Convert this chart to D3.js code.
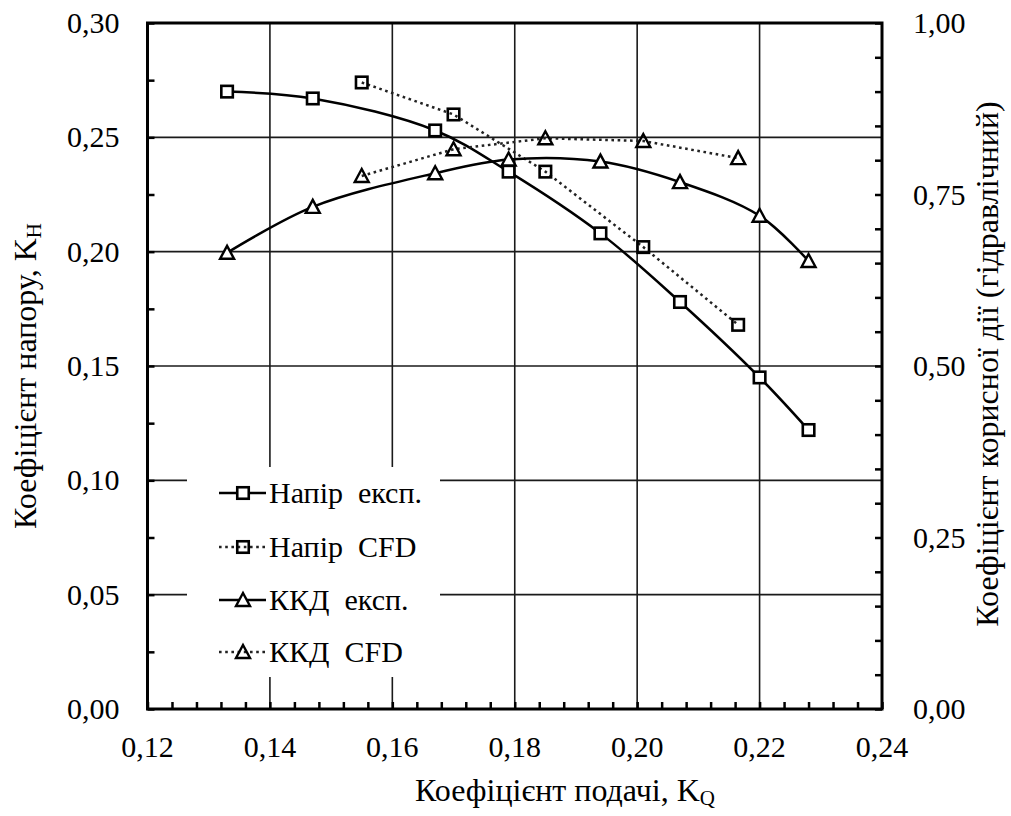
<!DOCTYPE html>
<html>
<head>
<meta charset="utf-8">
<script src="https://cdn.jsdelivr.net/npm/d3@7"></script>
<style>
  html, body { margin: 0; padding: 0; background: #fff; }
  svg { display: block; }
</style>
</head>
<body>
<svg id="chart" width="1011" height="816"></svg>
<script>
// ---- data ----
const kqExp   = [0.133, 0.147, 0.167, 0.179, 0.194, 0.207, 0.220, 0.228];
const headExp = [0.270, 0.267, 0.253, 0.235, 0.208, 0.178, 0.145, 0.122];
const effExp  = [0.665, 0.732, 0.781, 0.801, 0.798, 0.768, 0.719, 0.653];

const kqCfd   = [0.155, 0.170, 0.185, 0.201, 0.2165];
const headCfd = [0.274, 0.260, 0.235, 0.202, 0.168];
const effCfd  = [0.777, 0.816, 0.832, 0.828, 0.803];

const xTicks      = [0.12, 0.14, 0.16, 0.18, 0.20, 0.22, 0.24];
const yLeftTicks  = [0.00, 0.05, 0.10, 0.15, 0.20, 0.25, 0.30];
const yRightTicks = [0.00, 0.25, 0.50, 0.75, 1.00];
const legendLabels = ["Напір  експ.", "Напір  CFD", "ККД  експ.", "ККД  CFD"];

// ---- layout ----
const FONT = "Liberation Serif";
const svg = d3.select("#chart");
const L = 147.5, R = 882, T = 23, B = 709;
const x  = d3.scaleLinear().domain([0.12, 0.24]).range([L, R]);
const yL = d3.scaleLinear().domain([0, 0.30]).range([B, T]);
const yR = d3.scaleLinear().domain([0, 1.00]).range([B, T]);
const fmt = v => d3.format(".2f")(v).replace(".", ",");
const tickFont = 30, titleFont = 32;

function txt(g) { return g.append("text").style("font-family", FONT).attr("fill", "#000"); }

// gridlines
const grid = svg.append("g").attr("stroke", "#1a1a1a").attr("stroke-width", 1.6);
grid.selectAll("line.v").data(xTicks.slice(1, -1)).join("line")
  .attr("x1", d => x(d)).attr("x2", d => x(d)).attr("y1", T).attr("y2", B);
grid.selectAll("line.h").data(yLeftTicks.slice(1, -1)).join("line")
  .attr("x1", L).attr("x2", R).attr("y1", d => yL(d)).attr("y2", d => yL(d));

// axes (ticks inward)
const xMinor = d3.range(0, 31).map(i => 0.12 + i * 0.004);
const xAxis = svg.append("g").attr("transform", `translate(0,${B})`)
  .call(d3.axisBottom(x).tickValues(xMinor).tickSize(-7).tickFormat(""));
const yLMinor = d3.range(0, 13).map(i => i * 0.025);
const yAxisL = svg.append("g").attr("transform", `translate(${L},0)`)
  .call(d3.axisLeft(yL).tickValues(yLMinor).tickSize(-7).tickFormat(""));
const yRMinor = d3.range(0, 21).map(i => i * 0.05);
const yAxisR = svg.append("g").attr("transform", `translate(${R},0)`)
  .call(d3.axisRight(yR).tickValues(yRMinor).tickSize(-7).tickFormat(""));
[xAxis, yAxisL, yAxisR].forEach(g => {
  g.select(".domain").remove();
  g.selectAll(".tick line").attr("stroke", "#000").attr("stroke-width", 2.5);
});

// tick labels
const gx = svg.append("g");
xTicks.forEach(d => txt(gx).attr("x", x(d)).attr("y", B + 48).attr("text-anchor", "middle")
  .attr("font-size", tickFont).text(fmt(d)));
const gyl = svg.append("g");
yLeftTicks.forEach(d => txt(gyl).attr("x", L - 28).attr("y", yL(d) + 10).attr("text-anchor", "end")
  .attr("font-size", tickFont).text(fmt(d)));
const gyr = svg.append("g");
yRightTicks.forEach(d => txt(gyr).attr("x", R + 31).attr("y", yR(d) + 10).attr("text-anchor", "start")
  .attr("font-size", tickFont).text(fmt(d)));

// frame
svg.append("rect").attr("x", L).attr("y", T).attr("width", R - L).attr("height", B - T)
  .attr("fill", "none").attr("stroke", "#000").attr("stroke-width", 3);

// ---- legend background ----
const lg = { x: 187, y: 467, w: 253, h: 210 };
svg.append("rect").attr("x", lg.x).attr("y", lg.y).attr("width", lg.w).attr("height", lg.h)
  .attr("fill", "#fff");

// ---- series ----
const series = [
  { xs: kqExp, ys: headExp, scale: yL, dotted: false, marker: "square" },
  { xs: kqCfd, ys: headCfd, scale: yL, dotted: true,  marker: "square" },
  { xs: kqExp, ys: effExp,  scale: yR, dotted: false, marker: "triangle" },
  { xs: kqCfd, ys: effCfd,  scale: yR, dotted: true,  marker: "triangle" }
];

function styleLine(sel, dotted) {
  sel.attr("fill", "none")
    .attr("stroke", dotted ? "#222" : "#000")
    .attr("stroke-width", 2.5)
    .attr("stroke-dasharray", dotted ? "2.6,3.6" : null);
}
function drawMarker(g, type, cx, cy, dotted) {
  if (type === "square") {
    const s = 11.5;
    g.append("rect").attr("x", cx - s / 2).attr("y", cy - s / 2).attr("width", s).attr("height", s)
      .attr("fill", dotted ? "none" : "#fff").attr("stroke", "#000").attr("stroke-width", 2.6);
  } else {
    const w = 14, h = 12;
    g.append("path")
      .attr("d", `M${cx},${cy - h / 2 - 1}L${cx + w / 2},${cy + h / 2}L${cx - w / 2},${cy + h / 2}Z`)
      .attr("fill", dotted ? "none" : "#fff").attr("stroke", "#000").attr("stroke-width", 2.4)
      .attr("stroke-linejoin", "miter");
  }
}

series.forEach(s => {
  const pts = s.xs.map((v, i) => [x(v), s.scale(s.ys[i])]);
  const line = d3.line().curve(s.dotted ? d3.curveLinear : d3.curveCatmullRom.alpha(0.5));
  svg.append("path").attr("d", line(pts)).call(styleLine, s.dotted);
  const mg = svg.append("g");
  pts.forEach(p => drawMarker(mg, s.marker, p[0], p[1], s.dotted));
});

// ---- legend entries ----
const legRows = [493, 547, 600, 652];
legendLabels.forEach((lab, i) => {
  const s = series[i];
  const cy = legRows[i];
  svg.append("line").attr("x1", 219).attr("x2", 266).attr("y1", cy).attr("y2", cy)
    .call(styleLine, s.dotted);
  drawMarker(svg.append("g"), s.marker, 243, cy, s.dotted);
  txt(svg).attr("x", 269).attr("y", cy + 10).attr("font-size", tickFont)
    .style("white-space", "pre").text(lab);
});

// ---- axis titles ----
const tL = txt(svg).attr("font-size", titleFont).attr("text-anchor", "middle")
  .attr("transform", `translate(36,376) rotate(-90)`);
tL.append("tspan").text("Коефіцієнт напору, K");
tL.append("tspan").attr("font-size", 21).attr("dy", 5).text("H");

const tB = txt(svg).attr("font-size", titleFont).attr("text-anchor", "middle")
  .attr("x", 565).attr("y", 801);
tB.append("tspan").text("Коефіцієнт подачі, K");
tB.append("tspan").attr("font-size", 21).attr("dy", 4).text("Q");

txt(svg).attr("font-size", titleFont).attr("text-anchor", "middle")
  .attr("transform", `translate(998,364) rotate(-90)`)
  .text("Коефіцієнт корисної дії (гідравлічний)");
</script>
</body>
</html>
